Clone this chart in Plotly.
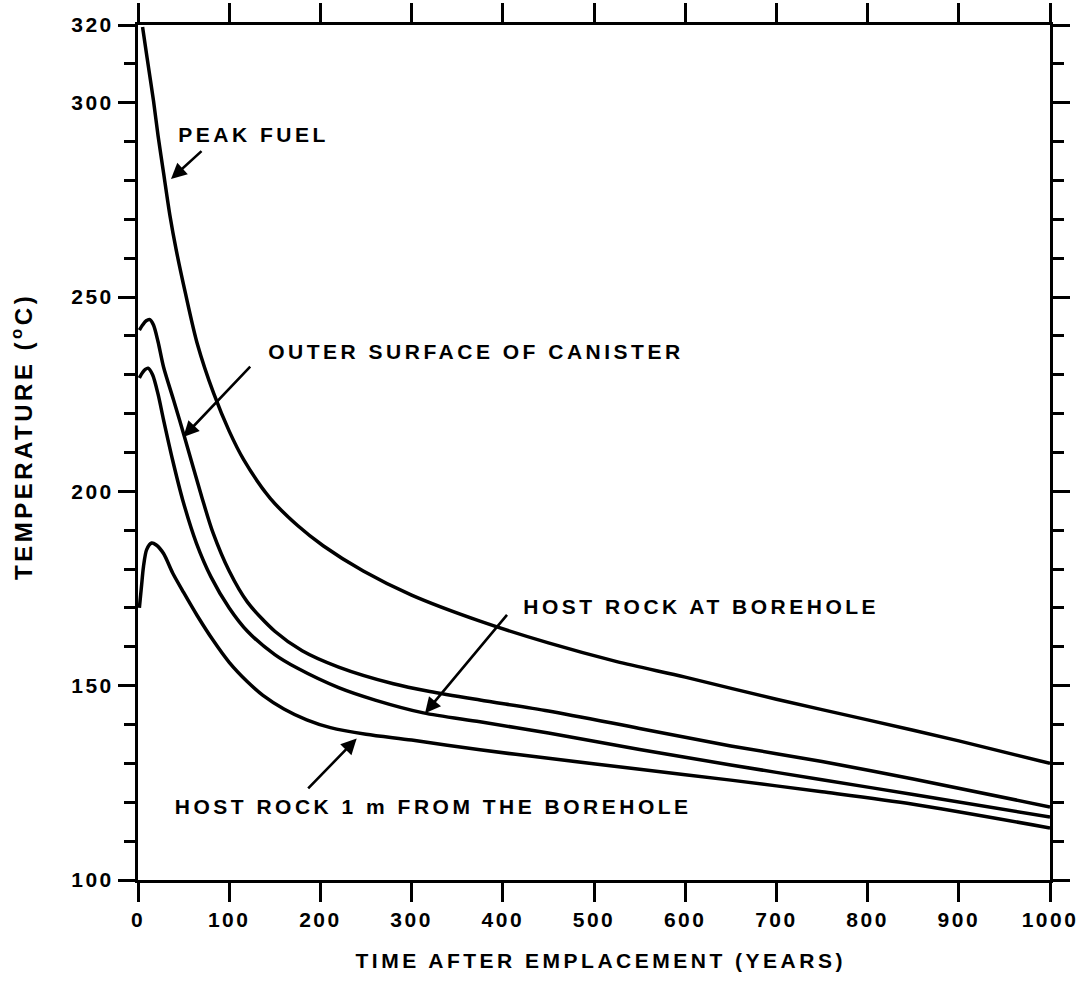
import plotly.graph_objects as go

# ---- data ----
pf_t = [5, 10, 17, 22, 28, 35, 42, 52, 65, 83, 100, 116, 145, 175, 203, 247, 300, 375, 450, 525, 600, 700, 800, 900, 1000]
pf_T = [319.5, 311.5, 300.5, 291.5, 282, 271, 262, 251, 238, 225.2, 215.5, 208.1, 198.2, 191.2, 186, 179.5, 173.3, 166.6, 161, 156.2, 152.2, 146.5, 141.2, 135.8, 130]

os_t = [1.5, 5, 9, 13, 17, 22, 28, 39, 51, 70, 82, 100, 120, 150, 180, 220, 280, 320, 375, 450, 550, 650, 750, 850, 1000]
os_T = [241.5, 242.8, 243.9, 244.2, 242.8, 238.5, 232, 223.5, 214, 198.5, 189.5, 179.5, 171.5, 164, 159, 154.8, 150.5, 148.5, 146.3, 143.5, 139, 134.5, 130.5, 126, 118.8]

hb_t = [1.5, 5, 8, 11, 16, 22, 28, 38, 49, 64, 80, 100, 120, 150, 174, 220, 260, 313, 375, 450, 550, 650, 750, 850, 1000]
hb_T = [229.2, 230.6, 231.4, 231.7, 230, 225, 218.4, 208, 197.8, 186.7, 178, 170, 164, 158, 154.6, 149.5, 146.3, 143, 140.7, 137.8, 133.6, 129.6, 125.8, 122, 116.2]

m1_t = [1.5, 4, 6, 9.5, 15, 20, 28, 38, 50, 65, 82, 100, 120, 137, 160, 185, 211, 250, 300, 375, 450, 550, 650, 750, 850, 1000]
m1_T = [170, 176, 180.6, 185, 186.7, 186.2, 184, 179, 174, 168, 161.8, 156, 151, 147.5, 144, 141.2, 139.2, 137.5, 136, 133.5, 131.3, 128.5, 125.7, 122.7, 119.5, 113.4]

x_ticks = [0, 100, 200, 300, 400, 500, 600, 700, 800, 900, 1000]
y_ticks = [100, 150, 200, 250, 300, 320]

labels = ["PEAK FUEL", "OUTER SURFACE OF CANISTER", "HOST ROCK AT BOREHOLE",
          "HOST ROCK 1 m FROM THE BOREHOLE"]
label_pos = [(127, 291.7), (370.6, 236.1), (616.8, 170.3), (323.5, 119.0)]
# arrows: (tail_t, tail_T, tip_t, tip_T)
arrows = [(71.3, 287.9, 36.2, 280.4),
          (124.6, 232.5, 49.7, 214.0),
          (406.0, 168.6, 314.7, 142.9),
          (185.0, 123.2, 239.8, 136.4)]

x_title = "TIME AFTER EMPLACEMENT (YEARS)"
y_title = "TEMPERATURE (<sup>o</sup>C)"

FONT = "Liberation Sans, Arial, sans-serif"
LW = 3.5

fig = go.Figure()
for t, T, nm in [(pf_t, pf_T, "Peak fuel"), (os_t, os_T, "Outer surface of canister"),
                 (hb_t, hb_T, "Host rock at borehole"), (m1_t, m1_T, "Host rock 1 m from the borehole")]:
    fig.add_trace(go.Scatter(x=t, y=T, mode="lines", name=nm,
                             line=dict(color="black", width=LW, shape="spline", smoothing=0.8)))

annotations = []
for txt, (ax_, ay_) in zip(labels, label_pos):
    annotations.append(dict(x=ax_, y=ay_, xref="x", yref="y", text=txt, showarrow=False,
                            xanchor="center", yanchor="middle",
                            font=dict(family=FONT, size=21, color="black", weight="bold")))
for (tx, tT, hx, hT) in arrows:
    annotations.append(dict(x=hx, y=hT, ax=tx, ay=tT, xref="x", yref="y", axref="x", ayref="y",
                            text="", showarrow=True, arrowhead=2, arrowsize=1.2,
                            arrowwidth=2.6, arrowcolor="black", standoff=0))
annotations.append(dict(x=(600 - 138) / 912, y=(880 - 960) / 855, xref="paper", yref="paper",
                        text=x_title, showarrow=False, xanchor="center", yanchor="middle",
                        font=dict(family=FONT, size=21, color="black", weight="bold")))
annotations.append(dict(x=(22 - 138) / 912, y=(880 - 437) / 855, xref="paper", yref="paper",
                        text=y_title, showarrow=False, xanchor="center", yanchor="middle",
                        textangle=-90,
                        font=dict(family=FONT, size=24, color="black", weight="bold")))

fig.update_layout(
    width=1086, height=998, autosize=False,
    margin=dict(l=138, r=36, t=25, b=118, autoexpand=False),
    paper_bgcolor="white", plot_bgcolor="white",
    showlegend=False,
    annotations=annotations,
)
fig.update_xaxes(range=[0, 1000], tickvals=x_ticks, ticks="outside", ticklen=19, tickwidth=3,
                 tickcolor="black", showline=True, linewidth=3, linecolor="black", mirror="ticks",
                 showgrid=False, zeroline=False, automargin=False,
                 tickfont=dict(family=FONT, size=21, color="black", weight="bold"))
fig.update_yaxes(range=[100, 320], tickvals=y_ticks, ticks="outside", ticklen=17, tickwidth=3,
                 tickcolor="black", showline=True, linewidth=3, linecolor="black", mirror="ticks",
                 showgrid=False, zeroline=False, automargin=False,
                 minor=dict(dtick=10, tick0=100, ticks="outside", ticklen=11, tickwidth=3,
                            tickcolor="black", showgrid=False),
                 tickfont=dict(family=FONT, size=21, color="black", weight="bold"))

css_js = """
var s = document.createElement('style');
s.innerHTML = 'body {margin: 0; overflow: hidden;} .xtick text, .ytick text {letter-spacing: 2.5px;} text.annotation-text {letter-spacing: 3.5px;}';
document.head.appendChild(s);
"""
fig.write_html("out.html", post_script=css_js, config={"displayModeBar": False})
